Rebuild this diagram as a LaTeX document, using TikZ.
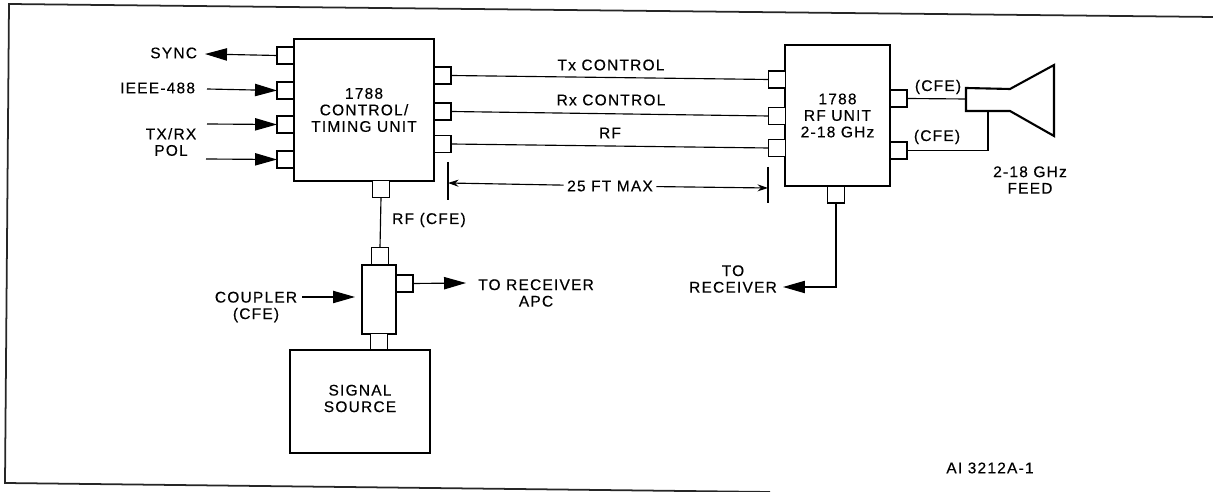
\documentclass[tikz,border=0pt]{standalone}
\usepackage{fontspec}
\setmainfont[LetterSpace=8,FakeBold=0.4]{Liberation Sans}
\usetikzlibrary{arrows.meta}

\tikzset{
    unitbox/.style={draw, line width=1.3pt, inner sep=0pt, outer sep=0pt, align=center},
    port/.style={draw, line width=0.7pt, fill=white, inner sep=0pt, outer sep=0pt, minimum width=17*0.02cm, minimum height=17*0.02cm},
    wire/.style={line width=0.65pt},
    lbl/.style={inner sep=0pt, outer sep=0pt, align=center}
}

\begin{document}
\begin{tikzpicture}[x=0.02cm, y=-0.02cm, font=\fontsize{8.8}{9.4}\selectfont, >={Stealth[length=12.5pt, width=7pt, inset=0pt]}]
    \useasboundingbox (0,0) rectangle (1213,492);
    % Outer frame, scanned at a slant and cut by the page
    \draw[line width=1pt, black!85] (1213,17) -- (9,4) -- (5,483) -- (770,492);

    % Control unit
    \node[unitbox, minimum width=140*0.02cm, minimum height=142*0.02cm] (ctrl) at (364,110) {1788\\CONTROL/\\TIMING UNIT};
    \node[port] (syncp) at (285.5,55.5) {};
    \node[port] (ieeep) at (285.5,90.5) {};
    \node[port] (txrxp) at (285.5,124.5) {};
    \node[port] (polp) at (285.5,159.5) {};
    \node[port] (txp) at (442.5,75.5) {};
    \node[port] (rxp) at (442.5,111.5) {};
    \node[port] (rfp) at (442.5,144) {};
    \node[port] (ctrlb) at (381,189) {};

    % Inputs on the left
    \node[lbl, anchor=east] (sync) at (197,53) {SYNC};
    \node[lbl, anchor=east] (ieee) at (195,88) {IEEE-488};
    \node[lbl] (txrx) at (171,142) {TX/RX\\POL};
    \coordinate (synctip) at (205,54);
    \coordinate (ieeein) at (207,89);
    \coordinate (txrxin) at (207,124);
    \coordinate (polin) at (206,159);
    \draw[wire, ->] (syncp.west) -- (synctip);
    \draw[wire, ->] (ieeein) -- (ieeep.west);
    \draw[wire, ->] (txrxin) -- (txrxp.west);
    \draw[wire, ->] (polin) -- (polp.west);

    % RF unit
    \node[unitbox, minimum width=105*0.02cm, minimum height=141*0.02cm] (rfunit) at (837.5,115.5) {1788\\RF UNIT\\2-18 GHz};
    \node[port] (txq) at (777,79.5) {};
    \node[port] (rxq) at (777,116) {};
    \node[port] (rfq) at (777,148) {};
    \node[port] (feedp) at (898.5,98.5) {};
    \node[port] (feedq) at (898.5,150.5) {};
    \node[port] (rfb) at (836,194.5) {};

    % Cables between the units
    \draw[wire] (txp.east) -- (txq.west);
    \draw[wire] (rxp.east) -- (rxq.west);
    \draw[wire] (rfp.east) -- (rfq.west);
    \node[lbl] (txlbl) at (611,65) {Tx CONTROL};
    \node[lbl] (rxlbl) at (611,100) {Rx CONTROL};
    \node[lbl] (rflbl) at (610,133) {RF};

    % Length limit
    \coordinate (ticka) at (448,162);
    \coordinate (tickb) at (448,200);
    \coordinate (tickc) at (768,167);
    \coordinate (tickd) at (768,203);
    \coordinate (ticke) at (448,183);
    \coordinate (tickf) at (768,188);
    \draw[wire] (ticka) -- (tickb);
    \draw[wire] (tickc) -- (tickd);
    \node[lbl, fill=white, inner xsep=2pt] (maxlen) at (610,186) {25 FT MAX};
    \draw[wire, -{Stealth[length=6pt, width=4pt]}] (maxlen) -- (ticke);
    \draw[wire, -{Stealth[length=6pt, width=4pt]}] (maxlen) -- (tickf);

    % Horn feed
    \coordinate (hornt) at (966,99);
    \coordinate (hornb) at (988,111);
    \draw[line width=1.2pt, fill=white] (1010,89) -- (966,88) -- (966,111) -- (1010,111) -- (1054,136) -- (1054,65) -- cycle;
    \draw[wire] (feedp.east) -- (hornt);
    \draw[wire] (feedq.east) -| (hornb);
    \node[lbl] (cfea) at (938,87) {(CFE)};
    \node[lbl] (cfeb) at (937,137) {(CFE)};
    \node[lbl] (feed) at (1030,180) {2-18 GHz\\FEED};

    % Receiver output
    \node[lbl] (torx) at (733,279) {TO\\RECEIVER};
    \coordinate (rxtip) at (783,287);
    \draw[wire, ->] (rfb.south) |- (rxtip);

    % Coupler and source
    \node[unitbox, line width=0.8pt, minimum width=34*0.02cm, minimum height=69*0.02cm] (coupler) at (379,299.5) {};
    \node[port] (cplt) at (380,256) {};
    \node[port] (cplr) at (404.5,283.5) {};
    \node[port] (cplb) at (379,342) {};
    \node[unitbox, minimum width=140*0.02cm, minimum height=103*0.02cm] (source) at (360,401.5) {};
    \node[lbl] (srclbl) at (360,398.5) {SIGNAL\\SOURCE};
    \draw[wire] (ctrlb.south) -- (cplt.north);
    \node[lbl] (rfcfe) at (429,220) {RF (CFE)};
    \node[lbl] (cpllbl) at (256,307) {COUPLER\\(CFE)};
    \coordinate (cplin) at (302,297);
    \coordinate (cpltip) at (355,297);
    \draw[wire, ->] (cplin) -- (cpltip);
    \coordinate (apctip) at (466,283);
    \draw[wire, ->] (cplr.east) -- (apctip);
    \node[lbl] (apc) at (536,293) {TO RECEIVER\\APC};

    \node[lbl] (figno) at (990,468) {AI 3212A-1};
\end{tikzpicture}
\end{document}
